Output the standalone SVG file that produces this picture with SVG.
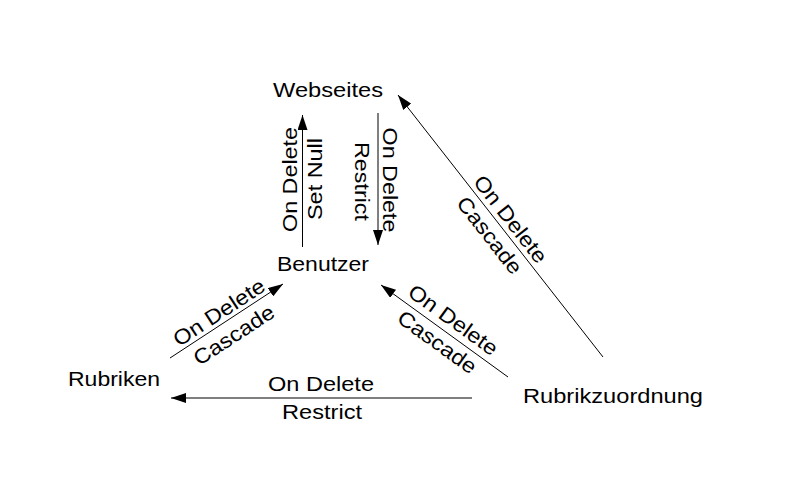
<svg xmlns="http://www.w3.org/2000/svg" width="794" height="478" viewBox="0 0 794 478">
<style>
text{font-family:"Liberation Sans",Arial,sans-serif;font-size:21px;fill:#000}
.c{stroke:#000;stroke-width:1;fill:none;marker-end:url(#ah)}
.m{text-anchor:middle}
</style>
<defs>
<marker id="ah" markerUnits="userSpaceOnUse" markerWidth="15" markerHeight="10" refX="15" refY="5" orient="auto" viewBox="0 0 15 10">
<path d="M0,0 L15,5 L0,10 z" fill="#000"/>
</marker>
</defs>
<rect width="794" height="478" fill="#fff"/>
<g id="webseites"><text x="273" y="97" textLength="110" lengthAdjust="spacingAndGlyphs">Webseites</text></g>
<g id="benutzer"><text x="277" y="271" textLength="92" lengthAdjust="spacingAndGlyphs">Benutzer</text></g>
<g id="rubriken"><text x="68" y="386" textLength="92" lengthAdjust="spacingAndGlyphs">Rubriken</text></g>
<g id="rubrikzuordnung"><text x="523" y="403" textLength="180" lengthAdjust="spacingAndGlyphs">Rubrikzuordnung</text></g>
<g id="connectors">
<line class="c" x1="302.5" y1="247" x2="302.5" y2="115"/>
<text class="m" transform="translate(296.5,179.5) rotate(-90)" textLength="105" lengthAdjust="spacingAndGlyphs">On Delete</text>
<text class="m" transform="translate(321.5,179) rotate(-90)" textLength="82" lengthAdjust="spacingAndGlyphs">Set Null</text>
<line class="c" x1="378" y1="113" x2="378" y2="245"/>
<text class="m" transform="translate(383,180) rotate(90)" textLength="105" lengthAdjust="spacingAndGlyphs">On Delete</text>
<text class="m" transform="translate(355,181.5) rotate(90)" textLength="79" lengthAdjust="spacingAndGlyphs">Restrict</text>
<line class="c" x1="603" y1="357" x2="398" y2="95"/>
<g transform="translate(500.9,226.6) rotate(51.96)">
<text class="m" x="0" y="-5" textLength="105" lengthAdjust="spacingAndGlyphs">On Delete</text>
<text class="m" x="0" y="21.5" textLength="92" lengthAdjust="spacingAndGlyphs">Cascade</text>
</g>
<line class="c" x1="508" y1="377" x2="381" y2="285"/>
<g transform="translate(445,331.4) rotate(35.9)">
<text class="m" x="0" y="-7" textLength="105" lengthAdjust="spacingAndGlyphs">On Delete</text>
<text class="m" x="0" y="20.5" textLength="92" lengthAdjust="spacingAndGlyphs">Cascade</text>
</g>
<line class="c" x1="170" y1="358" x2="283" y2="284"/>
<g transform="translate(225.2,321.8) rotate(-33.2)">
<text class="m" x="0" y="-4" textLength="105" lengthAdjust="spacingAndGlyphs">On Delete</text>
<text class="m" x="0" y="23" textLength="92" lengthAdjust="spacingAndGlyphs">Cascade</text>
</g>
<line class="c" x1="472" y1="398" x2="171" y2="398"/>
<text x="268" y="391" textLength="106" lengthAdjust="spacingAndGlyphs">On Delete</text>
<text x="282" y="418.5" textLength="80" lengthAdjust="spacingAndGlyphs">Restrict</text>
</g>
</svg>
